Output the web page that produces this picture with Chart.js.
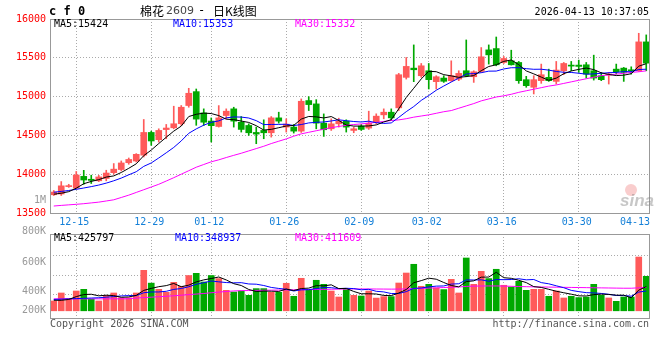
<!DOCTYPE html>
<html>
<head>
<meta charset="utf-8">
<script src="https://cdn.jsdelivr.net/npm/chart.js@4.4.1/dist/chart.umd.min.js"></script>
<style>
body { margin: 0; background: #fff; }
#wrap { position: relative; width: 660px; height: 360px; }
canvas { position: absolute; left: 0; top: 0; }
</style>
</head>
<body>
<div id="wrap">
<canvas id="kline" width="660" height="360"></canvas>
<canvas id="vol" width="660" height="360"></canvas>
</div>
<script>
// trading days shown on the chart
var dates = ['12-10','12-11','12-12','12-15','12-16','12-17','12-18','12-19','12-22','12-23',
    '12-24','12-25','12-26','12-29','12-30','12-31','01-05','01-06','01-07','01-08',
    '01-09','01-12','01-13','01-14','01-15','01-16','01-19','01-20','01-21','01-22',
    '01-23','01-26','01-27','01-28','01-29','01-30','02-02','02-03','02-04','02-05',
    '02-06','02-09','02-10','02-11','02-12','02-13','02-24','02-25','02-26','02-27',
    '03-02','03-03','03-04','03-05','03-06','03-09','03-10','03-11','03-12','03-13',
    '03-16','03-17','03-18','03-19','03-20','03-23','03-24','03-25','03-26','03-27',
    '03-30','03-31','04-01','04-02','04-03','04-07','04-08','04-09','04-10','04-13'];
var labelDates = ['12-15','12-29','01-12','01-26','02-09','03-02','03-16','03-30','04-13'];

var open = [13735,13745,13840,13820,13972,13935,13915,13945,14020,14060,
    14148,14170,14245,14538,14445,14575,14598,14650,14885,15064,
    14790,14685,14615,14756,14842,14670,14628,14538,14564,14534,
    14726,14607,14607,14555,14949,14906,14658,14585,14649,14684,
    14564,14620,14594,14667,14765,14799,14855,15248,15367,15269,
    15333,15192,15239,15205,15226,15333,15256,15325,15602,15619,
    15440,15461,15440,15218,15120,15205,15248,15196,15333,15406,
    15406,15410,15333,15269,15278,15354,15367,15342,15333,15705];
var high = [13790,13905,13870,14035,14050,13987,13985,14051,14137,14171,
    14209,14265,14705,14555,14585,14641,14876,14885,15107,15098,
    14842,14725,14884,14842,14863,14743,14649,14607,14701,14743,
    14799,14714,14641,14970,14999,14961,14777,14714,14722,14701,
    14607,14641,14812,14778,14842,14842,15299,15504,15666,15427,
    15427,15269,15269,15461,15333,15730,15333,15632,15666,15768,
    15517,15598,15453,15261,15269,15419,15354,15453,15440,15453,
    15470,15440,15534,15312,15312,15419,15376,15384,15816,15795];
var low = [13725,13726,13830,13810,13870,13880,13905,13915,14000,14043,
    14128,14158,14222,14372,14414,14457,14585,14628,14863,14630,
    14628,14415,14607,14714,14607,14543,14500,14393,14457,14478,
    14658,14543,14530,14538,14820,14585,14487,14564,14607,14543,
    14534,14564,14577,14650,14714,14692,14820,15226,15192,15248,
    15098,15098,15183,15196,15205,15256,15183,15312,15419,15397,
    15427,15406,15171,15120,15034,15171,15196,15162,15282,15333,
    15312,15239,15213,15205,15162,15290,15196,15290,15325,15333];
var close = [13770,13850,13850,13990,13925,13920,13965,14015,14065,14145,
    14190,14256,14538,14428,14564,14595,14650,14863,15043,14710,
    14670,14625,14726,14812,14684,14577,14534,14517,14534,14726,
    14684,14645,14555,14940,14897,14658,14573,14649,14684,14607,
    14585,14577,14658,14748,14799,14726,15282,15389,15346,15397,
    15218,15256,15197,15269,15299,15269,15320,15513,15538,15410,
    15491,15410,15205,15141,15218,15282,15205,15342,15427,15393,
    15389,15290,15239,15218,15290,15320,15312,15333,15705,15431];

var ma5 = [13742,13755,13775,13820,13877,13907,13930,13963,13978,14022,
    14076,14134,14239,14311,14395,14476,14555,14620,14743,14772,
    14787,14782,14755,14709,14703,14685,14667,14625,14569,14578,
    14599,14621,14629,14710,14744,14739,14725,14743,14692,14634,
    14620,14620,14622,14635,14673,14702,14843,14989,15108,15228,
    15326,15321,15283,15267,15248,15258,15271,15334,15388,15410,
    15454,15472,15411,15331,15293,15251,15210,15238,15295,15330,
    15351,15368,15348,15306,15285,15271,15276,15295,15392,15424];
var ma10 = [13768,13778,13790,13805,13822,13840,13860,13885,13915,13950,
    13992,14032,14101,14145,14209,14276,14345,14429,14527,14584,
    14632,14669,14687,14726,14738,14736,14724,14690,14639,14641,
    14642,14644,14627,14640,14661,14669,14673,14686,14701,14689,
    14679,14673,14683,14664,14654,14661,14732,14806,14872,14951,
    15014,15082,15136,15188,15238,15292,15296,15308,15328,15329,
    15356,15372,15372,15360,15352,15353,15341,15324,15313,15311,
    15301,15289,15293,15300,15308,15311,15322,15321,15349,15353];
var ma30 = [13590,13598,13605,13612,13620,13630,13640,13655,13670,13700,
    13730,13765,13800,13835,13870,13912,13955,14000,14045,14090,
    14125,14160,14185,14215,14243,14270,14300,14330,14360,14395,
    14425,14455,14490,14520,14540,14560,14580,14600,14615,14630,
    14640,14648,14658,14668,14680,14692,14700,14715,14735,14750,
    14765,14785,14805,14820,14850,14880,14910,14945,14970,14995,
    15010,15030,15055,15075,15095,15115,15135,15150,15170,15190,
    15210,15230,15250,15270,15280,15290,15300,15312,15320,15332];
var priceMaLegend = [15424, 15353, 15332];

var volume = [173000,314000,215000,349000,379000,203000,173000,273000,314000,229000,
    229000,314000,714000,488000,379000,326000,502000,432000,622000,661000,
    508000,622000,568000,361000,331000,349000,273000,391000,391000,326000,
    326000,485000,256000,573000,361000,538000,467000,349000,243000,374000,
    273000,261000,349000,224000,250000,250000,490000,666000,820000,432000,
    467000,402000,374000,555000,314000,931000,467000,696000,568000,732000,
    450000,420000,520000,361000,379000,379000,256000,349000,226000,256000,
    233000,243000,467000,273000,226000,167000,243000,243000,948000,608000];
var volMa5 = [185,185,200,250,286,292,264,275,268,238,
    244,272,360,395,425,444,482,425,452,509,
    545,569,596,544,478,446,376,341,347,346,
    341,384,357,393,400,443,439,458,392,394,
    341,300,300,296,271,267,313,376,495,532,
    575,557,499,446,422,515,528,593,595,679,
    583,573,538,497,426,412,379,345,318,293,
    264,261,285,294,288,275,275,230,365,426].map(v => v * 1000);
var volMa10 = [200,205,210,215,220,225,230,240,250,262,
    268,268,318,332,332,344,377,393,424,467,
    495,525,511,498,493,496,473,469,446,412,
    394,380,349,370,373,392,411,407,392,397,
    392,370,379,344,333,304,306,338,396,402,
    421,435,438,471,477,545,543,546,521,551,
    549,551,565,546,552,497,476,441,407,360,
    338,320,315,306,291,270,268,258,330,349].map(v => v * 1000);
var volMa30 = [211,211,211,211,211,211,211,211,211,211,
    212,225,233,240,248,256,265,275,285,295,
    305,318,330,340,350,355,358,360,362,364,
    366,368,370,372,374,376,378,380,382,384,
    385,385,385,384,383,382,383,385,390,395,
    400,405,410,415,420,430,435,437,438,438,
    436,432,428,425,422,420,418,416,414,412,
    410,408,406,404,402,400,398,398,405,412].map(v => v * 1000);
var volMaLegend = [425797, 348937, 411609];
var volGrid = [280000, 630000, 980000];
var volAxisLabels = ['1M', '800K', '600K', '400K', '200K'];

const MONO = '"DejaVu Sans Mono", monospace';
const RED = '#ff5a5a';
const GREEN = '#00a800';
const GRID = '#aaa';
const FRAME = '#999';
const NONE = 'rgba(0,0,0,0)';

var candleColor = close.map((c, i) => c >= open[i] ? RED : GREEN);

function xScale() {
    return {
        offset: true,
        grid: {
            offset: false,
            drawTicks: false,
            color: ctx => (labelDates.indexOf(dates[ctx.index]) >= 0 && dates[ctx.index] !== '04-13') ? GRID : NONE
        },
        border: { display: false, dash: [1, 2] },
        ticks: { display: false, autoSkip: false },
        afterFit: s => { s.height = 0; }
    };
}

function maLine(data, color) {
    return {
        type: 'line',
        data: data,
        borderColor: color,
        borderWidth: 1,
        pointRadius: 0,
        fill: false,
        tension: 0
    };
}

function frame(ctx, a) {
    ctx.strokeStyle = FRAME;
    ctx.lineWidth = 1;
    ctx.strokeRect(a.left + 0.5, a.top + 0.5, a.right - a.left - 1, a.bottom - a.top);
}

function text(ctx, str, x, y, color, align, font) {
    ctx.font = font || ('10px ' + MONO);
    ctx.fillStyle = color;
    ctx.textAlign = align || 'left';
    ctx.textBaseline = 'middle';
    ctx.fillText(str, x, y);
}

const klineDecor = {
    id: 'klineDecor',
    afterDraw(chart) {
        const ctx = chart.ctx, a = chart.chartArea, x = chart.scales.x;
        ctx.save();
        frame(ctx, a);
        labelDates.forEach(d => {
            const px = x.getPixelForValue(dates.indexOf(d));
            if (d === '04-13') text(ctx, d, a.right, a.bottom + 9, '#1580d8', 'right');
            else text(ctx, d, px - 2, a.bottom + 9, '#1580d8', 'center');
        });
        text(ctx, 'c f 0', 49, 12, '#000', 'left', 'bold 12px ' + MONO);
        text(ctx, '棉花', 140, 11, '#000', 'left', '12px "Noto Sans CJK SC"');
        text(ctx, '2609', 166, 11, '#444', 'left', '11px "DejaVu Sans"');
        text(ctx, '-', 198, 11, '#000', 'left', '12px ' + MONO);
        text(ctx, '日K线图', 213, 11, '#000', 'left', '12px "Noto Sans CJK SC"');
        text(ctx, '2026-04-13 10:37:05', 649, 12, '#000', 'right');
        text(ctx, 'MA5:' + priceMaLegend[0], 54, a.top + 5, '#000');
        text(ctx, 'MA10:' + priceMaLegend[1], 173, a.top + 5, '#0000ff');
        text(ctx, 'MA30:' + priceMaLegend[2], 295, a.top + 5, '#ff00ff');
        // sina watermark
        ctx.fillStyle = 'rgba(235,90,90,0.3)';
        ctx.beginPath();
        ctx.arc(631, 190, 6, 0, Math.PI * 2);
        ctx.fill();
        text(ctx, 'sina', 620, 201, 'rgba(130,130,130,0.45)', 'left', 'italic bold 17px "Liberation Sans"');
        ctx.restore();
    }
};

const volDecor = {
    id: 'volDecor',
    afterDraw(chart) {
        const ctx = chart.ctx, a = chart.chartArea;
        ctx.save();
        frame(ctx, a);
        var labelY = [200, 231, 262, 291, 310];
        volAxisLabels.forEach((l, i) => text(ctx, l, 46, labelY[i], '#999', 'right'));
        text(ctx, 'MA5:' + volMaLegend[0], 54, a.top + 4, '#000');
        text(ctx, 'MA10:' + volMaLegend[1], 175, a.top + 4, '#0000ff');
        text(ctx, 'MA30:' + volMaLegend[2], 295, a.top + 4, '#ff00ff');
        text(ctx, 'Copyright 2026 SINA.COM', 50, a.bottom + 6, '#555');
        text(ctx, 'http://finance.sina.com.cn', 649, a.bottom + 6, '#555', 'right');
        ctx.restore();
    }
};

var chart1 = new Chart(document.getElementById('kline'), {
    type: 'bar',
    data: {
        labels: dates,
        datasets: [
            Object.assign(maLine(ma5, '#000'), { order: 1 }),
            Object.assign(maLine(ma10, '#0000ff'), { order: 2 }),
            Object.assign(maLine(ma30, '#ff00ff'), { order: 3 }),
            {
                data: close.map((c, i) => [open[i], c]),
                backgroundColor: candleColor,
                barThickness: 6,
                minBarLength: 1,
                grouped: false,
                order: 4
            },
            {
                data: high.map((h, i) => [low[i], h]),
                backgroundColor: candleColor,
                barThickness: 1,
                grouped: false,
                order: 5
            }
        ]
    },
    options: {
        responsive: false,
        animation: false,
        events: [],
        layout: { padding: { top: 19, right: 10, bottom: 147, left: 0 } },
        plugins: { legend: { display: false }, tooltip: { enabled: false } },
        scales: {
            x: xScale(),
            y: {
                min: 13500,
                max: 16000,
                ticks: {
                    stepSize: 500,
                    color: '#f00',
                    font: { family: MONO, size: 10 },
                    padding: 4,
                    callback: v => String(v)
                },
                grid: {
                    drawTicks: false,
                    color: ctx => (ctx.tick && ctx.tick.value > 13500 && ctx.tick.value < 16000) ? GRID : NONE
                },
                border: { display: false, dash: [1, 2] },
                afterFit: s => { s.width = 50; }
            }
        }
    },
    plugins: [klineDecor]
});

var chart2 = new Chart(document.getElementById('vol'), {
    type: 'bar',
    data: {
        labels: dates,
        datasets: [
            Object.assign(maLine(volMa5, '#000'), { order: 1 }),
            Object.assign(maLine(volMa10, '#0000ff'), { order: 2 }),
            Object.assign(maLine(volMa30, '#ff00ff'), { order: 3 }),
            {
                data: volume,
                backgroundColor: candleColor,
                barThickness: 6,
                grouped: false,
                order: 4
            }
        ]
    },
    options: {
        responsive: false,
        animation: false,
        events: [],
        layout: { padding: { top: 234, right: 10, bottom: 42, left: 50 } },
        plugins: { legend: { display: false }, tooltip: { enabled: false } },
        scales: {
            x: xScale(),
            y: {
                min: -127000,
                max: 1354000,
                afterBuildTicks: s => { s.ticks = volGrid.map(v => ({ value: v })); },
                ticks: { display: false },
                grid: { drawTicks: false, color: GRID },
                border: { display: false, dash: [1, 2] },
                afterFit: s => { s.width = 0; }
            }
        }
    },
    plugins: [volDecor]
});
</script>
</body>
</html>
